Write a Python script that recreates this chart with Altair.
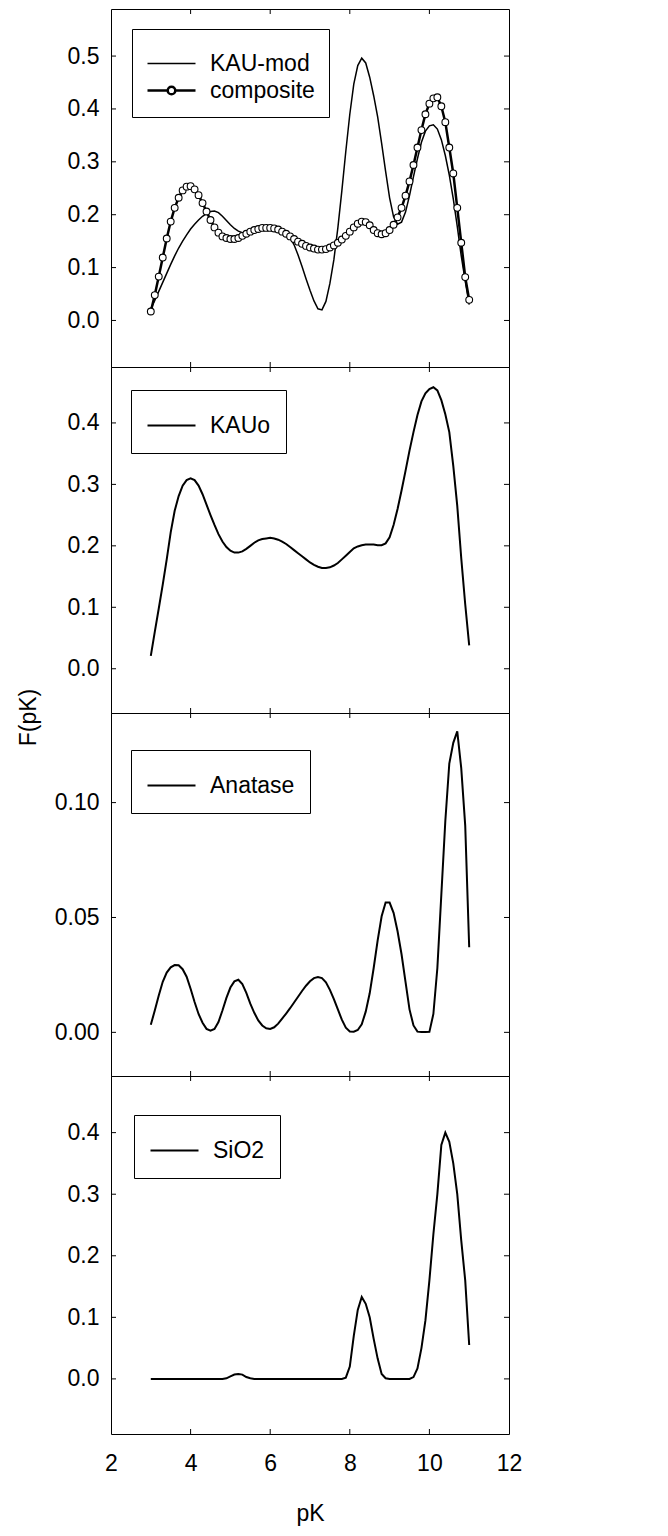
import altair as alt
import pandas as pd

# ---------------- data ----------------
pk = [round(3.0 + 0.1 * i, 1) for i in range(81)]

kau_mod = [0.022, 0.038, 0.055, 0.072, 0.089, 0.106, 0.122, 0.137, 0.150, 0.162,
           0.173, 0.182, 0.190, 0.197, 0.202, 0.206, 0.207, 0.204, 0.197, 0.189,
           0.181, 0.174, 0.169, 0.166, 0.165, 0.166, 0.168, 0.170, 0.172, 0.173,
           0.173, 0.172, 0.170, 0.167, 0.163, 0.157, 0.143, 0.124, 0.102, 0.079,
           0.057, 0.037, 0.022, 0.020, 0.036, 0.070, 0.115, 0.175, 0.245, 0.320,
           0.390, 0.447, 0.482, 0.496, 0.487, 0.460, 0.425, 0.385, 0.335, 0.282,
           0.232, 0.196, 0.182, 0.186, 0.205, 0.236, 0.272, 0.306, 0.337, 0.358,
           0.368, 0.370, 0.362, 0.342, 0.312, 0.275, 0.230, 0.178, 0.122, 0.075,
           0.030]

composite = [0.017, 0.048, 0.083, 0.119, 0.155, 0.187, 0.213, 0.232, 0.246, 0.253,
             0.254, 0.248, 0.237, 0.222, 0.206, 0.190, 0.176, 0.166, 0.159, 0.156,
             0.154, 0.154, 0.156, 0.160, 0.164, 0.168, 0.171, 0.173, 0.175, 0.175,
             0.175, 0.174, 0.172, 0.168, 0.164, 0.159, 0.154, 0.149, 0.145, 0.141,
             0.138, 0.136, 0.134, 0.134, 0.135, 0.138, 0.142, 0.147, 0.153, 0.160,
             0.168, 0.176, 0.183, 0.187, 0.186, 0.180, 0.171, 0.165, 0.163, 0.165,
             0.171, 0.181, 0.195, 0.213, 0.236, 0.263, 0.294, 0.327, 0.360, 0.390,
             0.410, 0.420, 0.422, 0.405, 0.375, 0.327, 0.278, 0.213, 0.147, 0.082,
             0.039]

kauo = [0.021, 0.060, 0.098, 0.137, 0.178, 0.222, 0.257, 0.281, 0.298, 0.307,
        0.310, 0.307, 0.298, 0.284, 0.267, 0.250, 0.234, 0.219, 0.207, 0.198,
        0.192, 0.189, 0.189, 0.191, 0.195, 0.200, 0.205, 0.209, 0.211, 0.212,
        0.213, 0.212, 0.210, 0.207, 0.203, 0.198, 0.193, 0.188, 0.183, 0.178,
        0.173, 0.169, 0.166, 0.164, 0.164, 0.165, 0.168, 0.172, 0.178, 0.184,
        0.190, 0.196, 0.199, 0.201, 0.202, 0.202, 0.202, 0.201, 0.201, 0.204,
        0.214, 0.234, 0.260, 0.290, 0.322, 0.355, 0.385, 0.413, 0.435, 0.448,
        0.455, 0.458, 0.453, 0.437, 0.414, 0.385, 0.330, 0.265, 0.180, 0.105,
        0.038]

anatase = [0.0033, 0.0095, 0.0160, 0.0220, 0.0260, 0.0283, 0.0293, 0.0292, 0.0275, 0.0242,
           0.0190, 0.0132, 0.0080, 0.0042, 0.0015, 0.0007, 0.0015, 0.0045, 0.0095, 0.0150,
           0.0195, 0.0222, 0.0229, 0.0210, 0.0172, 0.0125, 0.0085, 0.0052, 0.0030, 0.0018,
           0.0015, 0.0022, 0.0038, 0.0060, 0.0082, 0.0105, 0.0130, 0.0155, 0.0180, 0.0203,
           0.0222, 0.0236, 0.0241, 0.0236, 0.0218, 0.0185, 0.0145, 0.0100, 0.0055, 0.0020,
           0.0004, 0.0003, 0.0010, 0.0035, 0.0090, 0.0170, 0.0280, 0.0400, 0.0505, 0.0565,
           0.0565, 0.0520, 0.0440, 0.0340, 0.0220, 0.0100, 0.0030, 0.0003, 0.0001, 0.0001,
           0.0002, 0.0080, 0.0280, 0.0600, 0.0920, 0.1170, 0.1260, 0.1310, 0.1150, 0.0900,
           0.0370]

sio2 = [0.0, 0.0, 0.0, 0.0, 0.0, 0.0, 0.0, 0.0, 0.0, 0.0,
        0.0, 0.0, 0.0, 0.0, 0.0, 0.0, 0.0, 0.0, 0.0, 0.001,
        0.004, 0.007, 0.008, 0.007, 0.003, 0.001, 0.0, 0.0, 0.0, 0.0,
        0.0, 0.0, 0.0, 0.0, 0.0, 0.0, 0.0, 0.0, 0.0, 0.0,
        0.0, 0.0, 0.0, 0.0, 0.0, 0.0, 0.0, 0.0, 0.0, 0.002,
        0.020, 0.070, 0.112, 0.133, 0.122, 0.100, 0.065, 0.033, 0.008, 0.001,
        0.0, 0.0, 0.0, 0.0, 0.0, 0.0, 0.003, 0.017, 0.050, 0.095,
        0.160, 0.235, 0.300, 0.380, 0.400, 0.385, 0.350, 0.300, 0.225, 0.160,
        0.055]

x_ticks = [2, 4, 6, 8, 10, 12]
inner_x_ticks = [4, 6, 8, 10]
y_ticks_1 = [0.0, 0.1, 0.2, 0.3, 0.4, 0.5]
y_ticks_2 = [0.0, 0.1, 0.2, 0.3, 0.4]
y_ticks_3 = [0.0, 0.05, 0.10]
y_ticks_4 = [0.0, 0.1, 0.2, 0.3, 0.4]

# ---------------- styling ----------------
FONT = "Liberation Sans, Arial, Helvetica, sans-serif"
FS = 23
W = 398
TICK = 5
SYM = 400  # legend symbol size (r = 10 px)


def line_path(size):
    r = size ** 0.5 / 2
    end = (48 - r) / r
    return f"M-1,0L{end:.3f},0"


def marker_path(size):
    r = size ** 0.5 / 2
    end = (48 - r) / r
    c = (24 - r) / r
    cr = 3.8 / r
    return (f"M-1,0L{c - cr:.3f},0M{c + cr:.3f},0L{end:.3f},0"
            f"M{c + cr:.3f},0A{cr:.3f},{cr:.3f},0,1,1,{c - cr:.3f},0"
            f"A{cr:.3f},{cr:.3f},0,1,1,{c + cr:.3f},0Z")


def panel(series, ydom, yticks, yfmt, height, legend, bottom=False,
          ytitle=False, points=None):
    names = [s[0] for s in series]
    widths = [s[2] for s in series]
    rows = []
    for name, vals, _ in series:
        for x, v in zip(pk, vals):
            rows.append({"pK": x, "F": v, "series": name})
    df = pd.DataFrame(rows)

    xscale = alt.Scale(domain=[2, 12], nice=False, zero=False)
    yscale = alt.Scale(domain=ydom, nice=False, zero=False)

    if bottom:
        xaxis = alt.Axis(values=x_ticks, format="d", ticks=False, domain=False,
                         grid=False, labelFontSize=FS, labelFont=FONT,
                         labelColor="black", labelPadding=18, labelFlush=False,
                         title="pK", titleFontSize=FS, titleFont=FONT,
                         titleColor="black", titleFontWeight="normal",
                         titlePadding=27)
    else:
        xaxis = None

    ykw = dict(values=yticks, format=yfmt, ticks=False, domain=False, grid=False,
               labelFontSize=FS, labelFont=FONT, labelColor="black",
               labelPadding=12, labelFlush=False)
    if ytitle:
        ykw.update(title="F(pK)", titleFont=FONT, titleFontSize=FS,
                   titleFontWeight="normal", titleColor="black",
                   titleAngle=270, titleX=-76, titleY=4,
                   titleAlign="center", titleBaseline="alphabetic")
    else:
        ykw.update(title=None)

    enc = dict(
        x=alt.X("pK:Q", scale=xscale, axis=xaxis),
        y=alt.Y("F:Q", scale=yscale, axis=alt.Axis(**ykw)),
        color=alt.Color("series:N",
                        scale=alt.Scale(domain=names, range=["black"] * len(names)),
                        legend=legend),
    )
    if len(names) > 1:
        enc["strokeWidth"] = alt.StrokeWidth(
            "series:N", scale=alt.Scale(domain=names, range=widths), legend=None)
        lines = alt.Chart(df).mark_line().encode(**enc)
    else:
        lines = alt.Chart(df).mark_line(strokeWidth=widths[0]).encode(**enc)
    layers = [lines]

    if points is not None:
        pdf = df[df["series"] == points]
        layers.append(
            alt.Chart(pdf).mark_point(shape="circle", filled=True, fill="white",
                                      stroke="black", strokeWidth=1.1, size=46,
                                      opacity=1).encode(
                x=alt.X("pK:Q", scale=xscale, axis=None),
                y=alt.Y("F:Q", scale=yscale, axis=None),
            )
        )

    ydf = pd.DataFrame({"v": yticks})
    xdf = pd.DataFrame({"t": inner_x_ticks})
    rule = dict(color="black", strokeWidth=1)
    layers += [
        alt.Chart(ydf).mark_rule(**rule).encode(
            y=alt.Y("v:Q", scale=yscale, axis=None),
            x=alt.value(0), x2=alt.value(TICK)),
        alt.Chart(ydf).mark_rule(**rule).encode(
            y=alt.Y("v:Q", scale=yscale, axis=None),
            x=alt.value(W - TICK), x2=alt.value(W)),
        alt.Chart(xdf).mark_rule(**rule).encode(
            x=alt.X("t:Q", scale=xscale, axis=None),
            y=alt.value(0), y2=alt.value(TICK)),
        alt.Chart(xdf).mark_rule(**rule).encode(
            x=alt.X("t:Q", scale=xscale, axis=None),
            y=alt.value(height - TICK), y2=alt.value(height)),
    ]
    return (alt.layer(*layers)
            .resolve_axis(x="independent", y="independent")
            .properties(width=W, height=height))


LEG_COMMON = dict(orient="none", title=" ", titleFontSize=9, titlePadding=0,
                  symbolSize=SYM, symbolStrokeColor="black",
                  labelFontSize=FS, labelFont=FONT, labelColor="black",
                  labelOffset=41, strokeColor="black", fillColor="white")


def single_legend(x, y):
    return alt.Legend(legendX=x, legendY=y, symbolType=line_path(SYM),
                      symbolStrokeWidth=2, padding=15, **LEG_COMMON)


sym_expr = ("datum.value === 'composite' ? '" + marker_path(SYM) + "' : '"
            + line_path(SYM) + "'")
legend1 = alt.Legend(legendX=21, legendY=20,
                     symbolType=alt.ExprRef(expr=sym_expr),
                     symbolStrokeWidth=alt.ExprRef(
                         expr="datum.value === 'composite' ? 2.5 : 1.5"),
                     symbolFillColor="white", padding=14, rowPadding=3,
                     **LEG_COMMON)

p1 = panel([("KAU-mod", kau_mod, 1.5), ("composite", composite, 2.5)],
           [-0.088, 0.589], y_ticks_1, ".1f", 358, legend1, points="composite")
p2 = panel([("KAUo", kauo, 2)], [-0.072, 0.491], y_ticks_2, ".1f", 346,
           single_legend(20, 23))
p3 = panel([("Anatase", anatase, 2)], [-0.019, 0.139], y_ticks_3, ".2f", 363,
           single_legend(20, 37), ytitle=True)
p4 = panel([("SiO2", sio2, 2)], [-0.0895, 0.492], y_ticks_4, ".1f", 358,
           single_legend(23, 39), bottom=True)

chart = (alt.vconcat(p1, p2, p3, p4, spacing=0, bounds="flush")
         .resolve_scale(color="independent")
         .properties(padding={"left": 8, "top": 0, "right": 5, "bottom": 0})
         .configure(font=FONT)
         .configure_view(stroke="black", strokeWidth=1))

chart.save("out.html", embed_options={"renderer": "svg", "actions": False})
